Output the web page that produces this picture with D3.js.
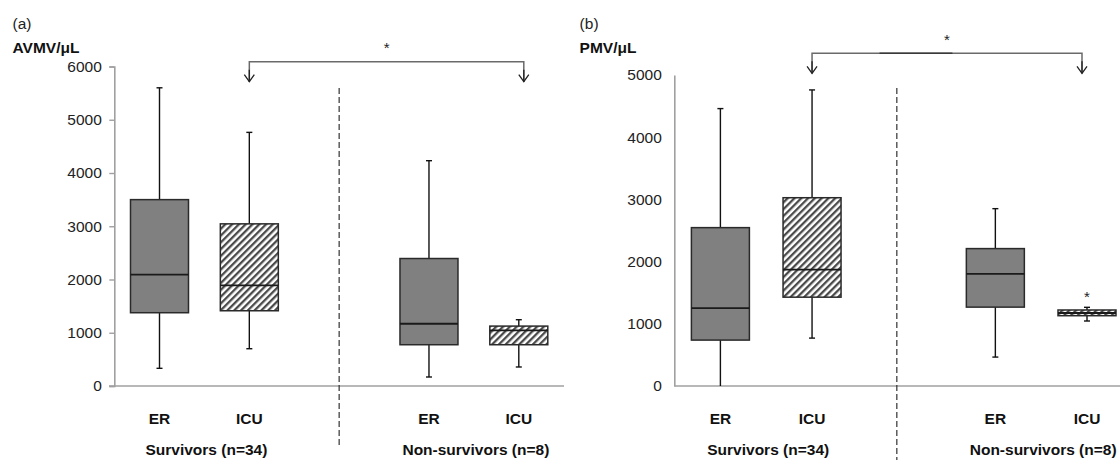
<!DOCTYPE html>
<html>
<head>
<meta charset="utf-8">
<script src="https://cdn.jsdelivr.net/npm/d3@7"></script>
<style>
  html, body { margin: 0; padding: 0; background: #fff; }
  svg { display: block; font-family: "Liberation Sans", Arial, Helvetica, sans-serif; }
</style>
</head>
<body>
<svg id="chart" width="1120" height="460"></svg>
<script>
// ---------------- DATA ----------------
const categories = ["ER", "ICU", "ER", "ICU"];
const groups = ["Survivors (n=34)", "Non-survivors (n=8)"];
const slotPositions = [0, 1, 3, 4];
const fillTypes = ["solid", "hatch", "solid", "hatch"];

// Panel (a) AVMV/µL
const avmvMin    = [332, 700, 169, 357];
const avmvQ1     = [1376, 1413, 775, 775];
const avmvMedian = [2090, 1888, 1169, 1044];
const avmvQ3     = [3500, 3045, 2394, 1125];
const avmvMax    = [5600, 4763, 4231, 1245];
const avmvOutliers = [[], [], [], []];
const avmvTicks  = [0, 1000, 2000, 3000, 4000, 5000, 6000];

// Panel (b) PMV/µL
const pmvMin    = [0, 770, 465, 1045];
const pmvQ1     = [738, 1428, 1268, 1130];
const pmvMedian = [1252, 1872, 1803, 1174];
const pmvQ3     = [2546, 3027, 2209, 1222];
const pmvMax    = [4460, 4760, 2851, 1265];
const pmvOutliers = [[], [], [], [1463]];
const pmvTicks  = [0, 1000, 2000, 3000, 4000, 5000];

// significance bracket: between slot indices
const bracketFrom = 1, bracketTo = 3;

// ---------------- LAYOUT ----------------
const svg = d3.select("#chart");
const defs = svg.append("defs");
const pat = defs.append("pattern")
  .attr("id", "hatch").attr("patternUnits", "userSpaceOnUse")
  .attr("width", 4.8).attr("height", 4.8)
  .attr("patternTransform", "rotate(45)");
pat.append("rect").attr("width", 4.8).attr("height", 4.8).attr("fill", "#fff");
pat.append("rect").attr("x", 0).attr("y", 0).attr("width", 2.3).attr("height", 4.8).attr("fill", "#4a4a4a");

const FONT = 15.5;

const panels = [
  {
    letter: "(a)", unit: "AVMV/\u03bcL", letterX: 12.5,
    min: avmvMin, q1: avmvQ1, med: avmvMedian, q3: avmvQ3, max: avmvMax, out: avmvOutliers,
    ticks: avmvTicks, axisX: 114.3, yTop: 66.5, xRange: [159.5, 518.8],
    tickSize: 5, xAxisStart: 109, xAxisEnd: 564, divider: 2.0,
    bracketY: 61.7, starY: 47, dividerTop: 88, dividerBottom: 445, darkSeg: null
  },
  {
    letter: "(b)", unit: "PMV/\u03bcL", letterX: 579.6,
    min: pmvMin, q1: pmvQ1, med: pmvMedian, q3: pmvQ3, max: pmvMax, out: pmvOutliers,
    ticks: pmvTicks, axisX: 674.3, yTop: 75, xRange: [720.4, 1087],
    tickSize: 0, xAxisStart: 674.3, xAxisEnd: 1120, divider: 1.925,
    bracketY: 53.3, starY: 39, dividerTop: 88, dividerBottom: 460, darkSeg: [0.25, 0.52]
  }
];

const ZERO_Y = 386;
const BOX_W = 58;
const CAP_W = 6;

panels.forEach(p => {
  const g = svg.append("g");
  const y = d3.scaleLinear().domain([0, d3.max(p.ticks)]).range([ZERO_Y, p.yTop]);
  const x = d3.scaleLinear().domain([0, 4]).range(p.xRange);

  // titles
  g.append("text").attr("x", p.letterX).attr("y", 29)
    .attr("font-size", FONT).attr("fill", "#222").text(p.letter);
  g.append("text").attr("x", p.letterX).attr("y", 52.5)
    .attr("font-size", FONT).attr("font-weight", "bold").attr("fill", "#111").text(p.unit);

  // y axis
  const yAxis = d3.axisLeft(y).tickValues(p.ticks).tickFormat(d3.format("d"))
    .tickSize(p.tickSize).tickSizeOuter(p.tickSize).tickPadding(12.5 - p.tickSize);
  const ag = g.append("g").attr("transform", `translate(${p.axisX},0)`).call(yAxis);
  ag.selectAll("path.domain").attr("stroke", "#a0a0a0").attr("stroke-width", 1.6);
  ag.selectAll(".tick line").attr("stroke", "#a0a0a0").attr("stroke-width", 1.4);
  ag.selectAll(".tick text").attr("font-size", FONT).attr("fill", "#222")
    .attr("font-family", "'Liberation Sans', Arial, sans-serif");

  // x axis line
  g.append("line").attr("x1", p.xAxisStart).attr("x2", p.xAxisEnd)
    .attr("y1", y(0)).attr("y2", y(0))
    .attr("stroke", "#a0a0a0").attr("stroke-width", 1.6);

  // divider
  g.append("line").attr("x1", x(p.divider)).attr("x2", x(p.divider))
    .attr("y1", p.dividerTop).attr("y2", p.dividerBottom)
    .attr("stroke", "#333").attr("stroke-width", 1.2).attr("stroke-dasharray", "6,3");

  // boxes
  categories.forEach((c, i) => {
    const cx = x(slotPositions[i]);
    // whisker
    g.append("line").attr("x1", cx).attr("x2", cx)
      .attr("y1", y(p.max[i])).attr("y2", y(p.min[i]))
      .attr("stroke", "#111").attr("stroke-width", 1.4);
    [p.max[i], p.min[i]].forEach(v => {
      if (v > 0) {
        g.append("line").attr("x1", cx - CAP_W / 2).attr("x2", cx + CAP_W / 2)
          .attr("y1", y(v)).attr("y2", y(v))
          .attr("stroke", "#111").attr("stroke-width", 1.4);
      }
    });
    // box
    g.append("rect").attr("x", cx - BOX_W / 2).attr("width", BOX_W)
      .attr("y", y(p.q3[i])).attr("height", y(p.q1[i]) - y(p.q3[i]))
      .attr("fill", fillTypes[i] === "solid" ? "#808080" : "url(#hatch)")
      .attr("stroke", "#2a2a2a").attr("stroke-width", 1.5);
    // median
    g.append("line").attr("x1", cx - BOX_W / 2).attr("x2", cx + BOX_W / 2)
      .attr("y1", y(p.med[i])).attr("y2", y(p.med[i]))
      .attr("stroke", "#1a1a1a").attr("stroke-width", 1.8);
    // outliers
    p.out[i].forEach(v => {
      g.append("text").attr("x", cx).attr("y", y(v) + 7)
        .attr("text-anchor", "middle").attr("font-size", 15).attr("fill", "#222").text("*");
    });
    // category label
    g.append("text").attr("x", cx).attr("y", 423.5)
      .attr("text-anchor", "middle").attr("font-size", FONT).attr("font-weight", "bold")
      .attr("fill", "#111").text(c);
  });

  // group labels
  groups.forEach((gr, j) => {
    const gx = x((slotPositions[2 * j] + slotPositions[2 * j + 1]) / 2) + 2;
    g.append("text").attr("x", gx).attr("y", 454.5)
      .attr("text-anchor", "middle").attr("font-size", FONT).attr("font-weight", "bold")
      .attr("fill", "#111").text(gr);
  });

  // significance bracket
  const bx1 = x(slotPositions[bracketFrom]);
  const bx2 = x(slotPositions[bracketTo + 0]) + (x(4) - x(3)) * 0.0;
  const bxEnd = x(4) + (p.letter === "(a)" ? 5 : -5);
  const by = p.bracketY;
  const tip = by + 20;
  g.append("path")
    .attr("d", `M${bx1},${tip} L${bx1},${by} L${bxEnd},${by} L${bxEnd},${tip}`)
    .attr("fill", "none").attr("stroke", "#6a6a6a").attr("stroke-width", 1.5);
  if (p.darkSeg) {
    const sx1 = bx1 + (bxEnd - bx1) * p.darkSeg[0];
    const sx2 = bx1 + (bxEnd - bx1) * p.darkSeg[1];
    g.append("line").attr("x1", sx1).attr("x2", sx2).attr("y1", by).attr("y2", by)
      .attr("stroke", "#3a3a3a").attr("stroke-width", 1.5);
    g.select("path:last-of-type");
  }
  [bx1, bxEnd].forEach(ax => {
    g.append("path")
      .attr("d", `M${ax - 5},${tip - 7} L${ax},${tip} L${ax + 5},${tip - 7}`)
      .attr("fill", "none").attr("stroke", "#222").attr("stroke-width", 1.3);
    g.append("line").attr("x1", ax).attr("x2", ax).attr("y1", by + 8).attr("y2", tip)
      .attr("stroke", "#222").attr("stroke-width", 1.3);
  });
  g.append("text").attr("x", (bx1 + bxEnd) / 2).attr("y", p.starY + 6)
    .attr("text-anchor", "middle").attr("font-size", 15).attr("fill", "#222").text("*");
});
</script>
</body>
</html>
